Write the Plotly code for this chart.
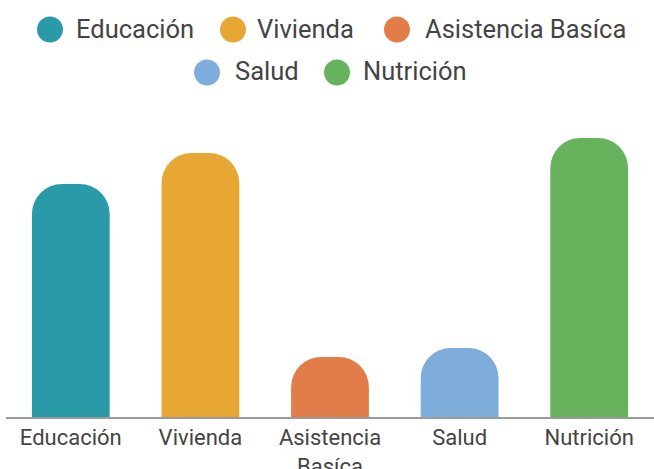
import plotly.graph_objects as go

categories = ["Educación", "Vivienda", "Asistencia Basíca", "Salud", "Nutrición"]
tick_labels = ["Educación", "Vivienda", "Asistencia<br>Basíca", "Salud", "Nutrición"]
values = [233, 264, 60, 69, 279]
colors = ["#2A9AA9", "#E8A735", "#E27C48", "#7FADDB", "#67B25D"]

# legend layout (pixel positions of circle centres / label starts, row centres)
legend_circle_x = [50, 233, 397, 207, 337]
legend_text_x = [74, 255, 423, 233, 361]
legend_row_y = [29.5, 29.5, 29.5, 72.5, 72.5]

W, H = 654, 469
ML, MR, MT, MB = 6, 0, 100, 52
PW, PH = W - ML - MR, H - MT - MB


def px_x(x):
    return (x - ML) / PW


def px_y(y):
    return (H - MB - y) / PH


fig = go.Figure()
fig.add_trace(go.Bar(
    x=categories, y=values,
    marker=dict(color=colors, cornerradius=30, line=dict(width=0)),
    showlegend=False, hoverinfo="skip",
))

R = 13
for name, col, cx, tx, cy in zip(categories, colors, legend_circle_x, legend_text_x, legend_row_y):
    fig.add_shape(
        type="circle", xref="paper", yref="paper",
        x0=px_x(cx - R), x1=px_x(cx + R), y0=px_y(cy + R), y1=px_y(cy - R),
        fillcolor=col, line=dict(width=0), layer="above",
    )
    fig.add_annotation(
        xref="paper", yref="paper", x=px_x(tx), y=px_y(cy - 1),
        xanchor="left", yanchor="middle", text=name, showarrow=False,
        font=dict(size=25.5, color="#444"),
    )

fig.update_layout(
    width=W, height=H,
    margin=dict(l=ML, r=MR, t=MT, b=MB, autoexpand=False),
    paper_bgcolor="white", plot_bgcolor="white",
    bargap=0.4,
    showlegend=False,
    font=dict(family="Roboto", color="#444"),
    xaxis=dict(
        tickvals=categories, ticktext=tick_labels, tickfont=dict(size=22, color="#444"),
        showline=True, linecolor="#9a9a9a", linewidth=2, showgrid=False, ticks="",
        zeroline=False, fixedrange=True, automargin=False,
    ),
    yaxis=dict(range=[0, PH], visible=False, fixedrange=True, automargin=False),
)

fig.write_html(
    "out.html",
    config={"displayModeBar": False, "staticPlot": True},
    post_script="document.body.style.margin='0';document.body.style.overflow='hidden';",
)
